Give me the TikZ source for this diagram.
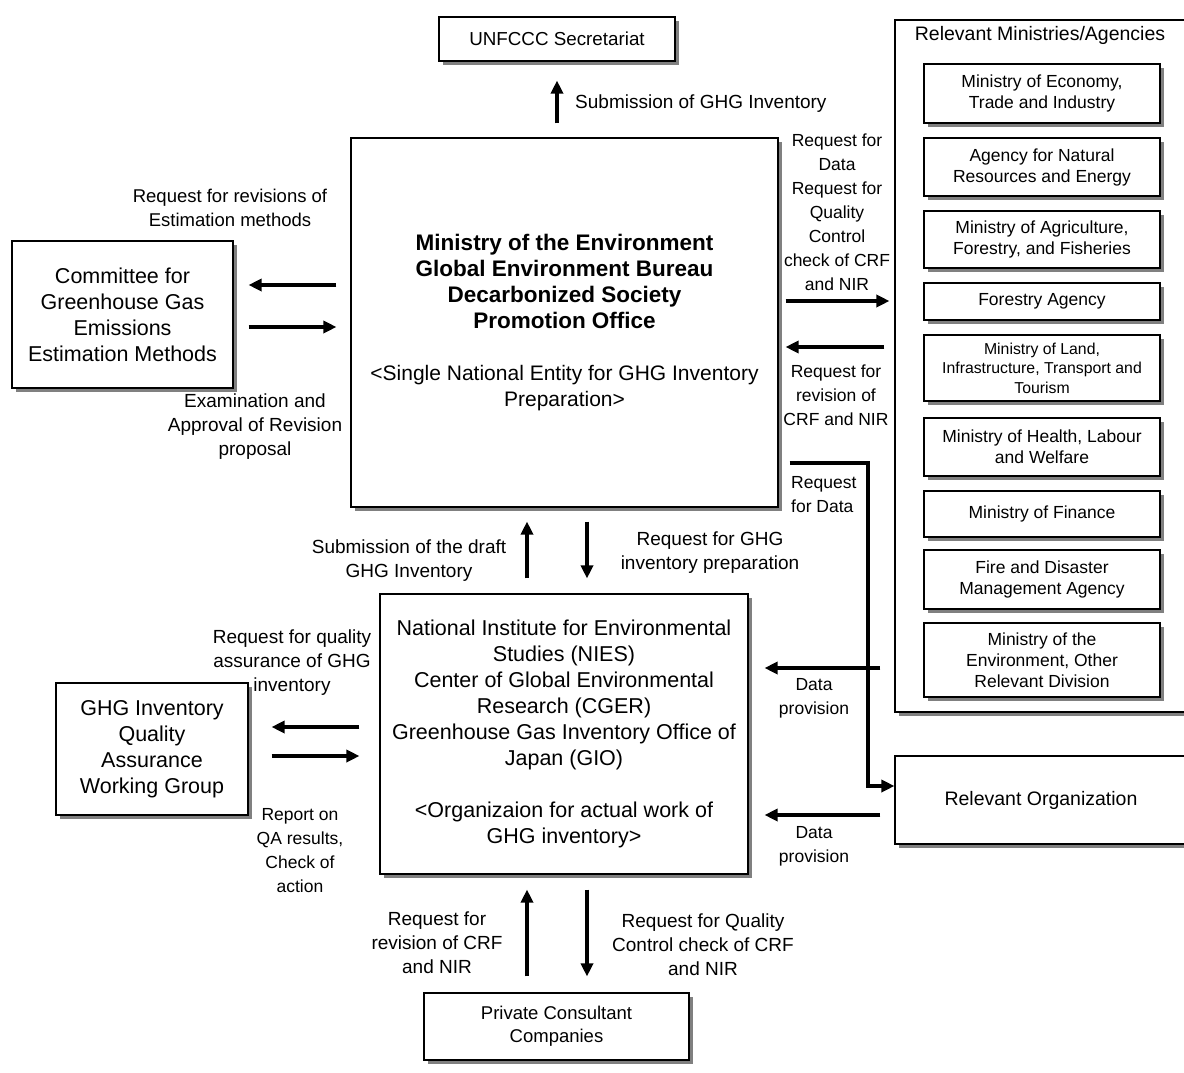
\documentclass[tikz,border=0pt]{standalone}
\usepackage{fontspec}
\setmainfont{Liberation Sans}
\usetikzlibrary{shadows,arrows.meta}
\newcommand\moebold[1]{{\fontsize{22.5}{26}\selectfont\bfseries #1}}
\begin{document}
\begin{tikzpicture}[x=1pt,y=-1pt,
  box/.style={draw=black, line width=1.1pt, fill=white, inner sep=0pt, align=center,
    drop shadow={shadow xshift=4pt, shadow yshift=-4pt, fill=black!50, opacity=1}},
  bigtxt/.style={font=\fontsize{21.5}{26}\selectfont},
  mintxt/.style={font=\fontsize{17.5}{21}\selectfont},
  minbox/.style={box, mintxt, minimum width=236pt},
  lab/.style={align=center, inner sep=0pt, font=\fontsize{17.5}{24}\selectfont},
  labb/.style={lab, font=\fontsize{19}{24}\selectfont},
  arr/.style={line width=3.5pt, -{Triangle[length=13pt,width=12pt]}},
]
\useasboundingbox (0,0) rectangle (1184,1073);

% boxes
\node[box, font=\fontsize{18.8}{26}\selectfont, minimum width=236pt, minimum height=44pt] (unfccc) at (557,39) {UNFCCC Secretariat};
\node[box, font=\fontsize{21}{26}\selectfont, minimum width=427pt, minimum height=369pt] (moe) at (564.5,322.5)
  {\moebold{Ministry of the Environment}\\ \moebold{Global Environment Bureau}\\ \moebold{Decarbonized Society}\\ \moebold{Promotion Office}\\[26pt] <Single National Entity for GHG Inventory\\ Preparation>};
\node[box, bigtxt, minimum width=221pt, minimum height=147pt] (comm) at (122.5,314.5)
  {Committee for\\ Greenhouse Gas\\ Emissions\\ Estimation Methods};
\node[box, minimum width=292pt, minimum height=692pt] (minis) at (1041,366) {};
\node[lab, font=\fontsize{19.5}{24}\selectfont] (minist) at (1040,35) {Relevant Ministries/Agencies};

\node[minbox, minimum height=59pt] (m1) at (1042,93.5) {Ministry of Economy,\\ Trade and Industry};
\node[minbox, minimum height=58pt] (m2) at (1042,167) {Agency for Natural\\ Resources and Energy};
\node[minbox, minimum height=57pt] (m3) at (1042,239.5) {Ministry of Agriculture,\\ Forestry, and Fisheries};
\node[minbox, minimum height=37pt] (m4) at (1042,301.5) {Forestry Agency};
\node[minbox, minimum height=66pt, font=\fontsize{15.8}{19.5}\selectfont] (m5) at (1042,368) {Ministry of Land,\\ Infrastructure, Transport and\\ Tourism};
\node[minbox, minimum height=58pt] (m6) at (1042,447) {Ministry of Health, Labour\\ and Welfare};
\node[minbox, minimum height=46pt] (m7) at (1042,514) {Ministry of Finance};
\node[minbox, minimum height=59pt] (m8) at (1042,579.5) {Fire and Disaster\\ Management Agency};
\node[minbox, minimum height=74pt] (m9) at (1042,660) {Ministry of the\\ Environment, Other\\ Relevant Division};

\node[box, font=\fontsize{19.5}{26}\selectfont, minimum width=292pt, minimum height=88pt] (relorg) at (1041,800) {Relevant Organization};
\node[box, bigtxt, minimum width=368pt, minimum height=280pt] (nies) at (564,734)
  {National Institute for Environmental\\ Studies (NIES)\\ Center of Global Environmental\\ Research (CGER)\\ Greenhouse Gas Inventory Office of\\ Japan (GIO)\\[26pt] <Organizaion for actual work of\\ GHG inventory>};
\node[box, bigtxt, minimum width=192pt, minimum height=132pt] (qa) at (152,749)
  {GHG Inventory\\ Quality\\ Assurance\\ Working Group};
\node[box, font=\fontsize{18.5}{23}\selectfont, minimum width=265pt, minimum height=67pt] (pcc) at (556.5,1026.5)
  {Private Consultant\\ Companies};

% connectors
\draw[arr, shorten <=14pt, shorten >=19pt] (moe.north -| 557,0) -- (unfccc.south);
\draw[arr, shorten <=14pt, shorten >=15pt] (moe.west |- 0,285) -- (comm.east |- 0,285);
\draw[arr, shorten <=15pt, shorten >=14pt] (comm.east |- 0,327) -- (moe.west |- 0,327);
\draw[arr, shorten <=7pt, shorten >=5pt] (moe.east |- 0,301) -- (minis.west |- 0,301);
\draw[arr, shorten <=10pt, shorten >=7pt] (minis.west |- 0,347) -- (moe.east |- 0,347);
\coordinate (bend) at (868,786);
\draw[arr, shorten <=11pt] (moe.east |- 0,463) -| (bend) -- (relorg.west |- bend);
\draw[arr, shorten <=14pt, shorten >=16pt] (minis.west |- 0,668) -- (nies.east |- 0,668);
\draw[arr, shorten <=14pt, shorten >=16pt] (relorg.west |- 0,815) -- (nies.east |- 0,815);
\draw[arr, shorten <=15pt, shorten >=14pt] (nies.north -| 527,0) -- (moe.south -| 527,0);
\draw[arr, shorten <=14pt, shorten >=15pt] (moe.south -| 587,0) -- (nies.north -| 587,0);
\draw[arr, shorten <=20pt, shorten >=23pt] (nies.west |- 0,727) -- (qa.east |- 0,727);
\draw[arr, shorten <=23pt, shorten >=20pt] (qa.east |- 0,756) -- (nies.west |- 0,756);
\draw[arr, shorten <=16pt, shorten >=15pt] (pcc.north -| 527,0) -- (nies.south -| 527,0);
\draw[arr, shorten <=15pt, shorten >=16pt] (nies.south -| 587,0) -- (pcc.north -| 587,0);

% labels
\node[lab, anchor=west, font=\fontsize{19}{24}\selectfont] (l1) at (575,104) {Submission of GHG Inventory};
\node[lab, font=\fontsize{18.5}{24}\selectfont] (l2) at (230,208) {Request for revisions of\\ Estimation methods};
\node[labb] (l3) at (255,427) {Examination and\\ Approval of Revision\\ proposal};
\node[lab] (l4) at (837,212) {Request for\\ Data\\ Request for\\ Quality\\ Control\\ check of CRF\\ and NIR};
\node[lab] (l5) at (836,395) {Request for\\ revision of\\ CRF and NIR};
\node[lab, align=left, anchor=west] (l6) at (791,494.5) {Request\\ for Data};
\node[labb] (l7) at (409,560.5) {Submission of the draft\\ GHG Inventory};
\node[labb] (l8) at (710,552.5) {Request for GHG\\ inventory preparation};
\node[labb] (l9) at (292,663) {Request for quality\\ assurance of GHG\\ inventory};
\node[lab] (l10) at (300,850.5) {Report on\\ QA results,\\ Check of\\ action};
\node[lab] (l11) at (814,698.5) {Data\\ provision};
\node[lab] (l12) at (814,846) {Data\\ provision};
\node[labb] (l13) at (437,942.5) {Request for\\ revision of CRF\\ and NIR};
\node[labb] (l14) at (703,945) {Request for Quality\\ Control check of CRF\\ and NIR};
\end{tikzpicture}
\end{document}
